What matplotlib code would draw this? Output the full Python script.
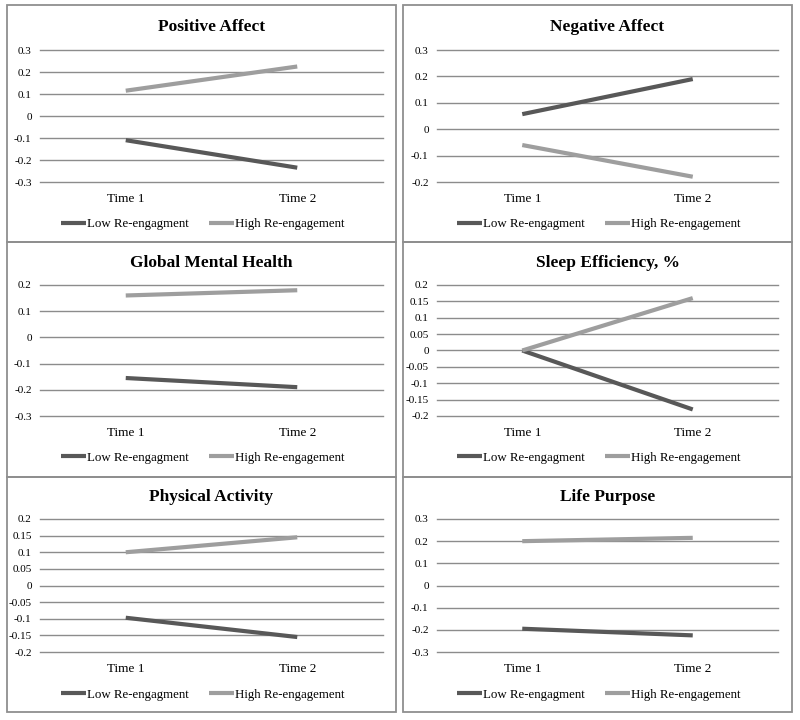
import matplotlib
matplotlib.use("Agg")
import matplotlib.pyplot as plt
from matplotlib.patches import Rectangle
from matplotlib.ticker import FuncFormatter, MultipleLocator

plt.rcParams['font.family'] = ['Liberation Serif', 'DejaVu Serif']
plt.rcParams['axes.unicode_minus'] = False

times = ["Time 1", "Time 2"]
series_names = ["Low Re-engagment", "High Re-engagement"]

titles = ["Positive Affect", "Negative Affect", "Global Mental Health",
          "Sleep Efficiency, %", "Physical Activity", "Life Purpose"]
low_vals = [[-0.11, -0.235], [0.057, 0.19], [-0.155, -0.19],
            [0.0, -0.18], [-0.097, -0.155], [-0.195, -0.225]]
high_vals = [[0.115, 0.225], [-0.06, -0.18], [0.16, 0.18],
             [0.0, 0.16], [0.1, 0.145], [0.2, 0.215]]
y_limits = [(-0.3, 0.3), (-0.2, 0.3), (-0.3, 0.2),
            (-0.2, 0.2), (-0.2, 0.2), (-0.3, 0.3)]
y_steps = [0.1, 0.1, 0.1, 0.05, 0.05, 0.1]

low_color = '#585858'
high_color = '#9e9e9e'
grid_color = '#8c8c8c'

W, H = 800, 720
fig = plt.figure(figsize=(8, 7.2), dpi=100)


def px_box(x0, y0, x1, y1):
    # pixel box (top-left origin) -> figure fraction [left, bottom, width, height]
    return [x0 / W, 1 - y1 / H, (x1 - x0) / W, (y1 - y0) / H]


# panel frames
panel_x = [(7, 396), (403, 792)]
panel_y = [(5, 242), (242, 477), (477, 712)]
for (px0, px1) in panel_x:
    for (py0, py1) in panel_y:
        fig.patches.append(Rectangle((px0 / W, 1 - py1 / H), (px1 - px0) / W,
                                     (py1 - py0) / H, transform=fig.transFigure,
                                     fill=False, edgecolor='#8f8f8f', lw=1.3))

axes_x = [(40, 383), (437, 778)]
axes_y = [(50, 182), (285, 416), (519, 652)]
title_y = [27, 263, 497]


def fmt(v, pos):
    s = f"{round(v, 2):g}"
    return "0" if s in ("-0", "0") else s


for i in range(6):
    row, col = divmod(i, 2)
    ax = fig.add_axes(px_box(axes_x[col][0], axes_y[row][0],
                             axes_x[col][1], axes_y[row][1]))
    ax.plot(times, low_vals[i], color=low_color, lw=3.0, label=series_names[0],
            solid_capstyle='butt')
    ax.plot(times, high_vals[i], color=high_color, lw=3.0, label=series_names[1],
            solid_capstyle='butt')
    ax.set_xlim(-0.5, 1.5)
    ax.set_ylim(*y_limits[i])
    ax.yaxis.set_major_locator(MultipleLocator(y_steps[i]))
    ax.yaxis.set_major_formatter(FuncFormatter(fmt))
    ax.yaxis.grid(True, color=grid_color, lw=1)
    for gl in ax.get_ygridlines():
        gl.set_clip_on(False)
    ax.set_axisbelow(True)
    for s in ax.spines.values():
        s.set_visible(False)
    ax.tick_params(axis='both', length=0)
    ax.tick_params(axis='y', labelsize=8, pad=6)
    ax.tick_params(axis='x', labelsize=9.5, pad=8)
    for lbl in ax.get_xticklabels():
        lbl.set_x(lbl.get_position()[0] - 0.02)

    cx = (axes_x[col][0] + axes_x[col][1]) / 2 / W
    fig.text(cx, 1 - title_y[row] / H, titles[i], ha='center', va='center',
             fontsize=12.5, fontweight='bold')

    ax.legend(loc='center', bbox_to_anchor=(0.475, -0.32), ncol=2, frameon=False,
              fontsize=9.3, handlelength=1.9, handletextpad=0.1, columnspacing=1.6)

fig.savefig("out.png", dpi=100, facecolor='white')
